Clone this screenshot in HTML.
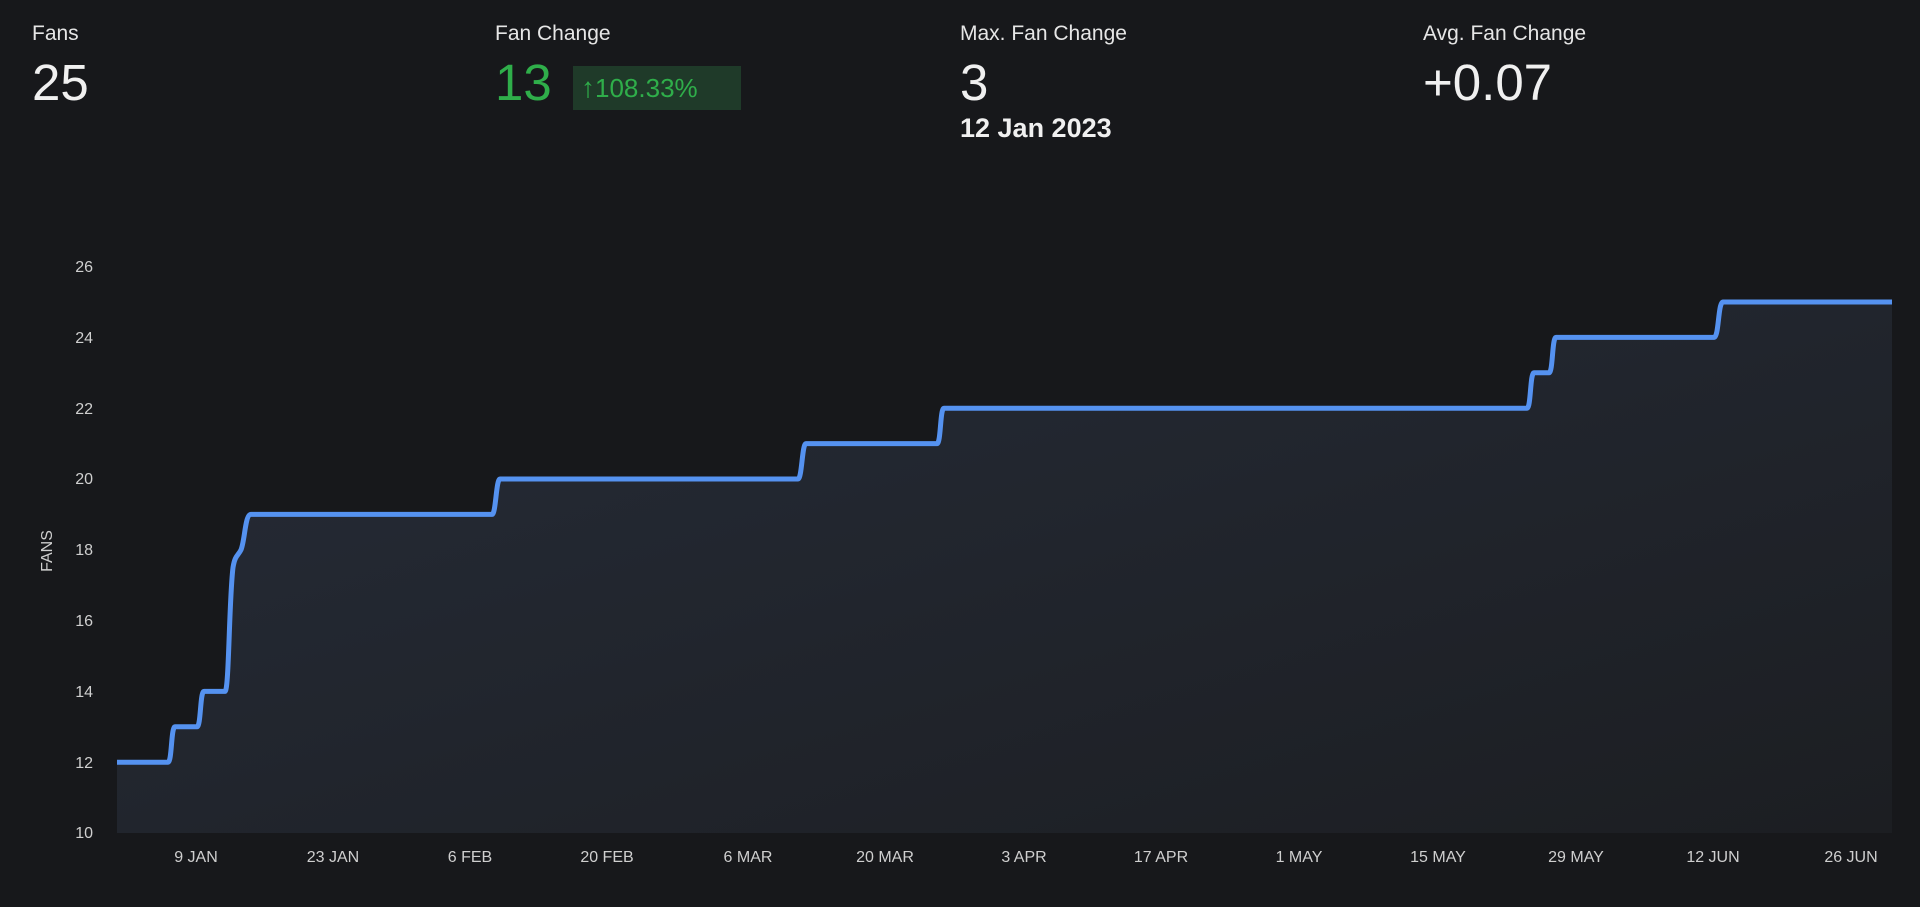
<!DOCTYPE html>
<html><head><meta charset="utf-8"><style>
html,body{margin:0;padding:0;background:#17181b;width:1920px;height:907px;overflow:hidden;font-family:"Liberation Sans",sans-serif;color:#ececec}
.stat{position:absolute;top:22px}
.lab{font-size:21px;color:#e6e6e6}
.val{font-size:51px;line-height:56px;margin-top:9px;color:#f0f0f0}
.green{color:#2fae4a}
.badge{position:absolute;left:78px;top:44px;width:168px;height:44px;background:#1f3a29;color:#2fae4a;font-size:26px;line-height:44px;text-align:left;box-sizing:border-box;padding-left:8px;white-space:nowrap}
.badge b{font-size:28px}
.sub{font-size:27px;font-weight:bold;color:#f0f0f0;margin-top:2px}
</style></head><body>
<div class="stat" style="left:32px"><div class="lab">Fans</div><div class="val">25</div></div>
<div class="stat" style="left:495px"><div class="lab">Fan Change</div><div class="val green">13</div><div class="badge"><b>&#8593;</b>108.33%</div></div>
<div class="stat" style="left:960px"><div class="lab">Max. Fan Change</div><div class="val">3</div><div class="sub">12 Jan 2023</div></div>
<div class="stat" style="left:1423px"><div class="lab">Avg. Fan Change</div><div class="val">+0.07</div></div>
<svg width="1920" height="907" style="position:absolute;left:0;top:0" xmlns="http://www.w3.org/2000/svg">
<defs><linearGradient id="g" x1="0" y1="0" x2="1" y2="1"><stop offset="0" stop-color="#262c38"/><stop offset="1" stop-color="#1c1e22"/></linearGradient></defs>
<g fill="#cfcfcf" font-size="16" text-anchor="end" font-family="Liberation Sans,sans-serif">
<text x="93" y="272">26</text><text x="93" y="343">24</text><text x="93" y="414">22</text><text x="93" y="484">20</text><text x="93" y="555">18</text><text x="93" y="626">16</text><text x="93" y="697">14</text><text x="93" y="768">12</text><text x="93" y="838">10</text>
</g>
<text x="0" y="0" transform="translate(52,551) rotate(-90)" fill="#cfcfcf" font-size="16" text-anchor="middle" font-family="Liberation Sans,sans-serif">FANS</text>
<g fill="#cfcfcf" font-size="16" text-anchor="middle" font-family="Liberation Sans,sans-serif">
<text x="196" y="862">9 JAN</text><text x="333" y="862">23 JAN</text><text x="470" y="862">6 FEB</text><text x="607" y="862">20 FEB</text><text x="748" y="862">6 MAR</text><text x="885" y="862">20 MAR</text><text x="1024" y="862">3 APR</text><text x="1161" y="862">17 APR</text><text x="1299" y="862">1 MAY</text><text x="1438" y="862">15 MAY</text><text x="1576" y="862">29 MAY</text><text x="1713" y="862">12 JUN</text><text x="1851" y="862">26 JUN</text>
</g>
<path fill="url(#g)" d="M117,762.2 L168,762.2 C172,762.2 171,726.8 175,726.8 L197,726.8 C201,726.8 200,691.4 204,691.4 L225,691.4 C229,691.4 229,600 233,567.5 C235,555 238,556 241,549.8 C245,540 245,514.4 251,514.4 L492,514.4 C496,514.4 496,479 500,479 L798,479 C802,479 802,443.6 806,443.6 L937,443.6 C941,443.6 940,408.2 944,408.2 L1527,408.2 C1531,408.2 1530,372.8 1534,372.8 L1549,372.8 C1553,372.8 1552,337.4 1556,337.4 L1714,337.4 C1719,337.4 1718,302 1723,302 L1892,302 L1892,833 L117,833 Z"/>
<path fill="none" stroke="#5592f0" stroke-width="5" stroke-linejoin="round" d="M117,762.2 L168,762.2 C172,762.2 171,726.8 175,726.8 L197,726.8 C201,726.8 200,691.4 204,691.4 L225,691.4 C229,691.4 229,600 233,567.5 C235,555 238,556 241,549.8 C245,540 245,514.4 251,514.4 L492,514.4 C496,514.4 496,479 500,479 L798,479 C802,479 802,443.6 806,443.6 L937,443.6 C941,443.6 940,408.2 944,408.2 L1527,408.2 C1531,408.2 1530,372.8 1534,372.8 L1549,372.8 C1553,372.8 1552,337.4 1556,337.4 L1714,337.4 C1719,337.4 1718,302 1723,302 L1892,302"/>
</svg>
</body></html>
